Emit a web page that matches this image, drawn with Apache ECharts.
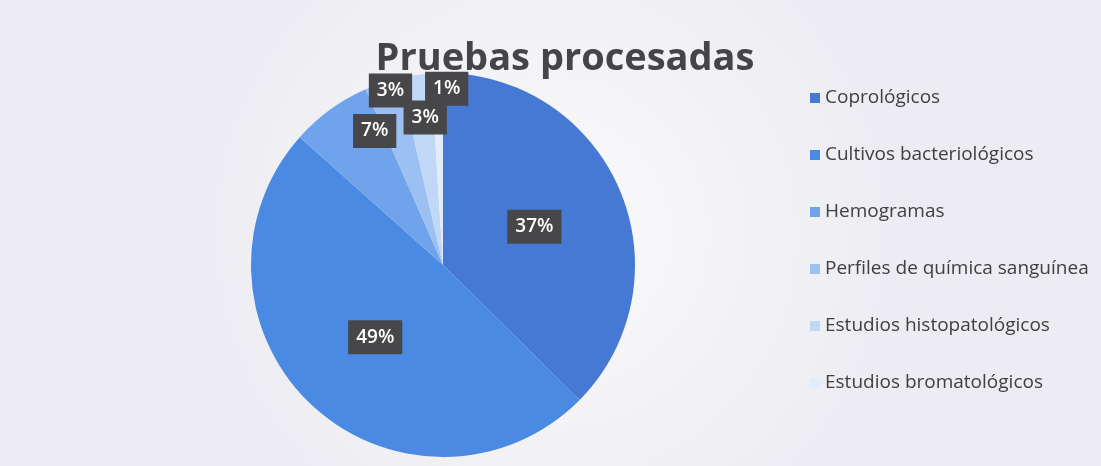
<!DOCTYPE html>
<html>
<head>
<meta charset="utf-8">
<script src="https://cdn.jsdelivr.net/npm/echarts@6/dist/echarts.min.js"></script>
<style>
    html, body { margin: 0; padding: 0; }
    #chart { width: 1101px; height: 466px; }
</style>
</head>
<body>
<div id="chart"></div>
<script>
// categories and values (share of processed tests)
const categories = [
    'Coprológicos',
    'Cultivos bacteriológicos',
    'Hemogramas',
    'Perfiles de química sanguínea',
    'Estudios histopatológicos',
    'Estudios bromatológicos'
];
const values = [37.4, 49.2, 6.8, 3.0, 2.6, 1.0];
const colors = ['#4679d3', '#4a8ae3', '#6fa3ec', '#9cc0f2', '#c0d7f6', '#e2ecfa'];

// small slice labels sit further out (radial factor) and slightly turned (degrees)
const labelPush = [1, 1, 1.52, 1.84, 1.5, 1.78];
const labelTurn = [0, 0, 9, 1.6, 1.4, 3];

const center = [443, 265];

const chart = echarts.init(document.getElementById('chart'));

const options = {
    backgroundColor: {
        type: 'radial',
        x: 0.5, y: 0.5, r: 0.75,
        colorStops: [
            { offset: 0, color: '#fbfbfc' },
            { offset: 1, color: '#ececf2' }
        ]
    },
    color: colors,
    title: {
        text: 'Pruebas procesadas',
        left: 560,
        textAlign: 'center',
        top: 35,
        textStyle: {
            fontFamily: 'Open Sans',
            fontSize: 38,
            fontWeight: 'bold',
            color: '#454547'
        }
    },
    legend: {
        orient: 'vertical',
        left: 805,
        top: 83,
        itemWidth: 10,
        itemHeight: 10,
        itemGap: 37,
        icon: 'rect',
        textStyle: {
            fontFamily: 'Open Sans',
            fontSize: 19,
            lineHeight: 20,
            color: '#404040'
        },
        data: categories
    },
    series: [
        {
            type: 'pie',
            z: 8,
            center,
            radius: 192,
            startAngle: 90,
            clockwise: true,
            percentPrecision: 0,
            silent: true,
            label: {
                position: 'inside',
                formatter: '{d}%',
                fontFamily: 'Open Sans',
                fontSize: 19,
                fontWeight: 600,
                color: '#fff',
                backgroundColor: '#47474a',
                padding: [8, 8, 7, 8]
            },
            labelLayout: params => {
                const k = labelPush[params.dataIndex];
                const t = labelTurn[params.dataIndex] * Math.PI / 180;
                const r = params.labelRect;
                const vx = r.x + r.width / 2 - center[0];
                const vy = r.y + r.height / 2 - center[1];
                const nx = (vx * Math.cos(t) - vy * Math.sin(t)) * k;
                const ny = (vx * Math.sin(t) + vy * Math.cos(t)) * k;
                return { dx: nx - vx, dy: ny - vy };
            },
            itemStyle: { borderWidth: 0 },
            data: categories.map((name, i) => ({ name, value: values[i] }))
        }
    ]
};

chart.setOption(options);
</script>
</body>
</html>
